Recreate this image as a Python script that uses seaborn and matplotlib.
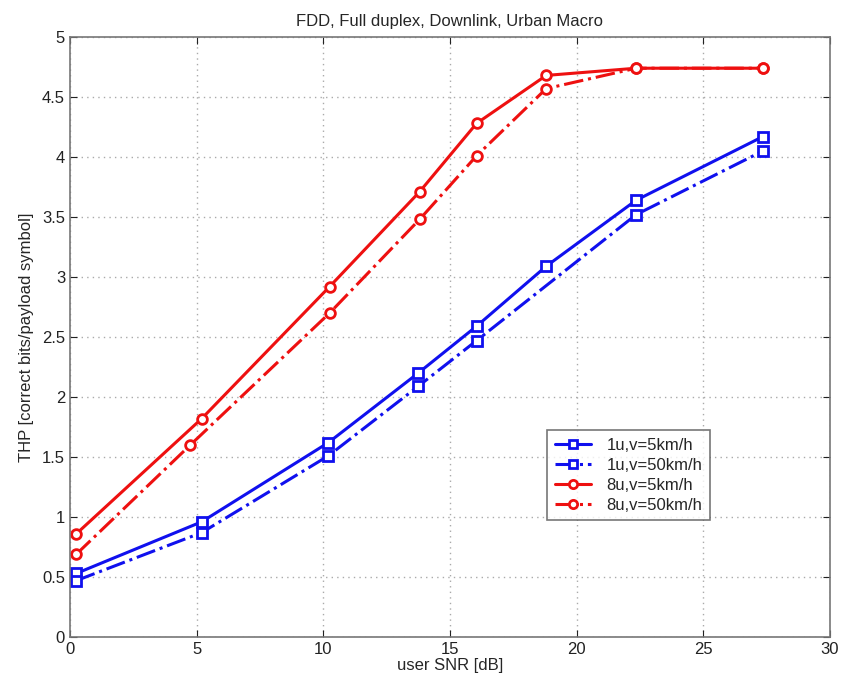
import matplotlib
matplotlib.use("Agg")
import matplotlib.pyplot as plt
import seaborn as sns
import pandas as pd

# Data
x_1u_5 = [0.25, 5.2, 10.2, 13.75, 16.05, 18.8, 22.35, 27.35]
y_1u_5 = [0.53, 0.96, 1.62, 2.20, 2.59, 3.09, 3.64, 4.17]

x_1u_50 = [0.25, 5.2, 10.2, 13.75, 16.05, 22.35, 27.35]
y_1u_50 = [0.47, 0.87, 1.51, 2.09, 2.47, 3.52, 4.05]

x_8u_5 = [0.25, 5.2, 10.25, 13.8, 16.05, 18.8, 22.35, 27.35]
y_8u_5 = [0.86, 1.82, 2.92, 3.71, 4.28, 4.68, 4.74, 4.74]

x_8u_50 = [0.25, 4.75, 10.25, 13.8, 16.05, 18.8, 22.35, 27.35]
y_8u_50 = [0.69, 1.60, 2.70, 3.48, 4.01, 4.57, 4.74, 4.74]

labels = ["1u,v=5km/h", "1u,v=50km/h", "8u,v=5km/h", "8u,v=50km/h"]
xs = [x_1u_5, x_1u_50, x_8u_5, x_8u_50]
ys = [y_1u_5, y_1u_50, y_8u_5, y_8u_50]
colors = ["#1010ee", "#1010ee", "#ee1010", "#ee1010"]
styles = ["-", "-.", "-", "-."]
markers = ["s", "s", "o", "o"]

sns.set_style("white")
plt.rcParams["font.family"] = ["Liberation Sans", "DejaVu Sans"]

fig = plt.figure(figsize=(8.45, 6.88), dpi=100)
ax = fig.add_axes([0.0828, 0.0741, 0.8994, 0.8721])

for xv, yv, lab, c, ls, mk in zip(xs, ys, labels, colors, styles, markers):
    df = pd.DataFrame({"x": xv, "y": yv})
    sns.lineplot(data=df, x="x", y="y", ax=ax, color=c, linestyle=ls,
                 linewidth=2.2, marker=mk, markersize=7, markerfacecolor="white",
                 markeredgecolor=c, markeredgewidth=2, label=lab,
                 estimator=None, sort=False)

ax.set_xlim(0, 30)
ax.set_ylim(0, 5)
ax.set_xticks([0, 5, 10, 15, 20, 25, 30])
ax.set_yticks([0, 0.5, 1, 1.5, 2, 2.5, 3, 3.5, 4, 4.5, 5])
ax.set_yticklabels(["0", "0.5", "1", "1.5", "2", "2.5", "3", "3.5", "4", "4.5", "5"])
ax.grid(True, linestyle=(0, (1, 3)), color="#aaaaaa", linewidth=1)
ax.tick_params(direction="in", length=5, labelsize=12, colors="#222222",
               top=True, right=True, bottom=True, left=True)
for s in ax.spines.values():
    s.set_visible(True)
    s.set_color("#777777")
    s.set_linewidth(1.2)

ax.set_xlabel("user SNR [dB]", fontsize=12, labelpad=1)
ax.set_ylabel("THP [correct bits/payload symbol]", fontsize=12, labelpad=6)
ax.set_title("FDD, Full duplex, Downlink, Urban Macro", fontsize=12, pad=8)

leg = ax.legend(loc="upper left", bbox_to_anchor=(0.628, 0.345),
                fontsize=12, frameon=True, fancybox=False,
                edgecolor="#555555", borderpad=0.45, labelspacing=0.3,
                handlelength=2.2, handletextpad=0.9, markerscale=0.85,
                borderaxespad=0)
leg.get_frame().set_linewidth(1.2)

fig.savefig("out.png", dpi=100)
